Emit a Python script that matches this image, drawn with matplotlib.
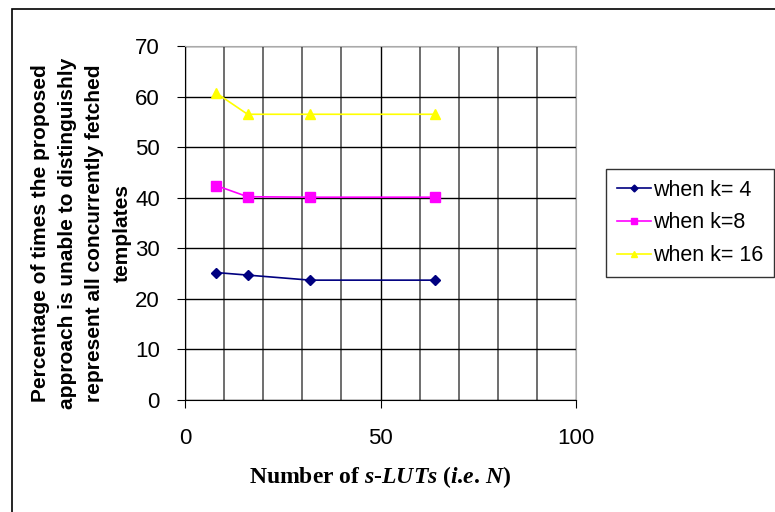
import matplotlib
matplotlib.use('Agg')
import matplotlib.pyplot as plt
from matplotlib.patches import Rectangle

plt.rcParams['mathtext.fontset'] = 'custom'
plt.rcParams['mathtext.it'] = 'Liberation Serif:bold:italic'
plt.rcParams['mathtext.rm'] = 'Liberation Serif:bold'

n_luts = [8, 16, 32, 64]
k4 = [25.2, 24.7, 23.7, 23.7]
k8 = [42.4, 40.2, 40.1, 40.1]
k16 = [60.7, 56.5, 56.5, 56.5]
labels = ['when k= 4', 'when k=8', 'when k= 16']

fig = plt.figure(figsize=(7.75, 5.12), dpi=100)
fig.patches.append(Rectangle((12/775, -0.01), 1.0, 1 - 9/512 + 0.01, transform=fig.transFigure,
                             fill=False, edgecolor='black', linewidth=1.2))
ax = fig.add_axes([185/775, 1 - 400/512, (576 - 185)/775, (400 - 46)/512])

ax.plot(n_luts, k4, color='#000080', marker='D', markersize=5, linewidth=1.2, label=labels[0])
ax.plot(n_luts, k8, color='#ff00ff', marker='s', markersize=7, linewidth=1.2, label=labels[1])
ax.plot(n_luts, k16, color='#ffff00', marker='^', markersize=7, linewidth=1.2, label=labels[2])

ax.set_xlim(0, 100)
ax.set_ylim(0, 70)
ax.set_xticks([0, 50, 100])
ax.set_xticks(range(0, 101, 10), minor=True)
ax.set_yticks(range(0, 71, 10))
ax.grid(True, which='both', color='black', linewidth=1.0)
ax.grid(True, which='minor', axis='x', color='#555555', linewidth=1.2)
ax.set_axisbelow(True)
for s in ['top', 'right']:
    ax.spines[s].set_color('#aaaaaa')
ax.tick_params(axis='both', which='major', labelsize=16, length=6, direction='out')
ax.tick_params(axis='x', which='minor', length=0)
ax.tick_params(axis='x', pad=14)
ax.tick_params(axis='y', pad=12)

ax.set_xlabel('Number of $\\mathit{s}$-$\\mathit{LUTs}$ ($\\mathit{i}$.$\\mathit{e}$. $\\mathit{N}$)',
              fontsize=17, fontweight='bold', family='Liberation Serif', labelpad=11)

fig.text(0.105, 0.545, 'Percentage of times the proposed\napproach is unable to distinguishly\n'
         'represent all concurrently fetched\ntemplates',
         rotation=90, ha='center', va='center', multialignment='center',
         fontsize=15, fontweight='bold', family='Liberation Sans', linespacing=1.55)

leg = ax.legend(loc='center left', bbox_to_anchor=(606/775, 1 - 223/512),
                bbox_transform=fig.transFigure, fontsize=15.5, frameon=True, fancybox=False,
                edgecolor='black', handlelength=1.6, handletextpad=0.1, borderpad=0.5,
                borderaxespad=0, labelspacing=0.55, markerscale=0.7)
leg.get_frame().set_linewidth(1.0)
for t in leg.get_texts():
    t.set_family('Liberation Sans')
for t in ax.get_xticklabels() + ax.get_yticklabels():
    t.set_family('Liberation Sans')

fig.savefig('out.png', dpi=100)
